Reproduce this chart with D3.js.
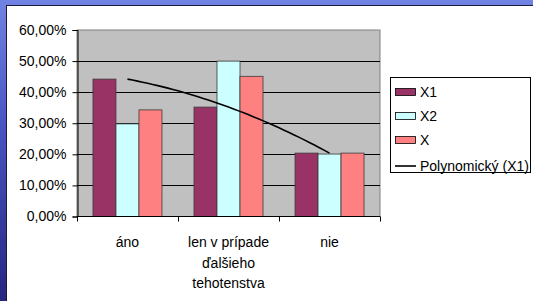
<!DOCTYPE html>
<html>
<head>
<meta charset="utf-8">
<script src="https://cdn.jsdelivr.net/npm/d3@7"></script>
<style>
  html, body { margin: 0; padding: 0; }
  body { width: 533px; height: 301px; overflow: hidden; }
  text { font-family: "Liberation Sans", Arial, sans-serif; fill: #000; }
</style>
</head>
<body>
<svg id="chart" width="533" height="301"></svg>
<script>
// ************************************************************************************************** //
// Data

var categories = [['áno'], ['len v prípade', 'ďalšieho', 'tehotenstva'], ['nie']];
var seriesNames = ['X1', 'X2', 'X'];
var x1Values = [0.442, 0.352, 0.204];
var x2Values = [0.298, 0.500, 0.201];
var xValues  = [0.343, 0.451, 0.204];
var yTicks = [0, 0.1, 0.2, 0.3, 0.4, 0.5, 0.6];
var trendName = 'Polynomický (X1)';

var colors = ['#993366', '#CCFFFF', '#FF8080'];

// ************************************************************************************************** //
// Setup

var width = 533, height = 301;
var plot = { left: 77, right: 380, top: 30, bottom: 216.5 };

var svg = d3.select('#chart');

// slide background (blue strips at top and left)
var defs = svg.append('defs');
var grad = defs.append('linearGradient').attr('id', 'bg').attr('x1', 0).attr('y1', 0).attr('x2', 0).attr('y2', 1);
grad.append('stop').attr('offset', '0%').attr('stop-color', '#7183e2');
grad.append('stop').attr('offset', '40%').attr('stop-color', '#4a56c4');
grad.append('stop').attr('offset', '100%').attr('stop-color', '#25267f');

svg.append('rect').attr('width', width).attr('height', height).attr('fill', 'url(#bg)');
svg.append('rect').attr('x', 6).attr('y', 5).attr('width', width - 6).attr('height', height - 5).attr('fill', '#1a1a3a');
svg.append('rect').attr('x', 7).attr('y', 6).attr('width', width - 7).attr('height', height - 6).attr('fill', '#fff');

// scales
var x = d3.scaleBand().domain(d3.range(categories.length)).range([plot.left, plot.right])
  .paddingInner(0.317).paddingOuter(0.158);
var xs = d3.scaleBand().domain(seriesNames).range([0, x.bandwidth()]);
var y = d3.scaleLinear().domain([0, 0.6]).range([plot.bottom, plot.top]);

// plot area
svg.append('rect')
  .attr('x', plot.left).attr('y', plot.top)
  .attr('width', plot.right - plot.left).attr('height', plot.bottom - plot.top)
  .attr('fill', '#C0C0C0').attr('stroke', '#808080').attr('stroke-width', 1);

// gridlines
svg.append('g').selectAll('line').data(yTicks.slice(1, -1)).enter().append('line')
  .attr('x1', plot.left).attr('x2', plot.right)
  .attr('y1', (d) => { return Math.round(y(d)) + 0.5 }).attr('y2', (d) => { return Math.round(y(d)) + 0.5 })
  .attr('stroke', '#000').attr('stroke-width', 1);

// bars
var series = [x1Values, x2Values, xValues];
series.forEach((vals, si) => {
  svg.append('g').selectAll('rect').data(vals).enter().append('rect')
    .attr('x', (d, i) => { return x(i) + xs(seriesNames[si]) })
    .attr('y', (d) => { return y(d) })
    .attr('width', xs.bandwidth())
    .attr('height', (d) => { return plot.bottom - y(d) })
    .attr('fill', colors[si]).attr('stroke', '#3a3a3a').attr('stroke-width', 0.8);
});

// polynomial trendline (order 2) on X1
var n = x1Values.length;
var idx = d3.range(1, n + 1);
function polyFit(xv, yv){
  // least squares for a + b x + c x^2
  var s = [0,0,0,0,0], t = [0,0,0];
  xv.forEach((xi, i) => {
    for (var k = 0; k < 5; k++) s[k] += Math.pow(xi, k);
    for (var k = 0; k < 3; k++) t[k] += yv[i]*Math.pow(xi, k);
  });
  var M = [[s[0],s[1],s[2],t[0]],[s[1],s[2],s[3],t[1]],[s[2],s[3],s[4],t[2]]];
  for (var c = 0; c < 3; c++){
    for (var r = c + 1; r < 3; r++){
      var f = M[r][c]/M[c][c];
      for (var k = c; k < 4; k++) M[r][k] -= f*M[c][k];
    }
  }
  var res = [0,0,0];
  for (var r = 2; r >= 0; r--){
    var v = M[r][3];
    for (var k = r + 1; k < 3; k++) v -= M[r][k]*res[k];
    res[r] = v/M[r][r];
  }
  return res;
}
var coef = polyFit(idx, x1Values);
var xt = d3.scaleLinear().domain([1, n]).range([x(0) + x.bandwidth()/2, x(n - 1) + x.bandwidth()/2]);
var trend = d3.range(1, n + 0.0001, 0.05).map((t) => { return { x: xt(t), y: y(coef[0] + coef[1]*t + coef[2]*t*t) } });
var line_gen = d3.line().x((d) => { return d.x }).y((d) => { return d.y });
svg.append('path').attr('d', line_gen(trend)).attr('fill', 'none').attr('stroke', '#000').attr('stroke-width', 1.6);

// y axis
var fmt = d3.format('.2%');
var yAxis = d3.axisLeft(y).tickValues(yTicks).tickSize(5).tickPadding(6)
  .tickFormat((d) => { return fmt(d).replace('.', ',') });
var gy = svg.append('g').attr('transform', 'translate(' + (plot.left + 0.5) + ',0)').call(yAxis);
gy.selectAll('text').style('font-size', '14px').style('font-family', '"Liberation Sans", Arial, sans-serif').attr('fill', '#000');
gy.selectAll('line,path').attr('stroke', '#000');

// x axis
svg.append('line').attr('x1', plot.left).attr('x2', plot.right).attr('y1', plot.bottom).attr('y2', plot.bottom).attr('stroke', '#000');
var tickPos = d3.range(categories.length + 1).map((i) => { return plot.left + i*x.step() });
svg.append('g').selectAll('line').data(tickPos).enter().append('line')
  .attr('x1', (d) => { return Math.round(d) + 0.5 }).attr('x2', (d) => { return Math.round(d) + 0.5 })
  .attr('y1', plot.bottom).attr('y2', plot.bottom + 5).attr('stroke', '#000');

var labels = svg.append('g').selectAll('text').data(categories).enter().append('text')
  .attr('x', (d, i) => { return x(i) + x.bandwidth()/2 })
  .attr('y', 247)
  .attr('text-anchor', 'middle').style('font-size', '14px');
labels.selectAll('tspan').data((d) => { return d }).enter().append('tspan')
  .attr('x', function(){ return d3.select(this.parentNode).attr('x') })
  .attr('dy', (d, i) => { return i === 0 ? 0 : 20.5 })
  .text((d) => { return d });

// legend
var legend = svg.append('g');
legend.append('rect').attr('x', 390.5).attr('y', 77.5).attr('width', 140).attr('height', 95)
  .attr('fill', '#fff').attr('stroke', '#000');
var legendItems = seriesNames.concat([trendName]);
var ly = [92, 116, 140, 166];
legendItems.forEach((name, i) => {
  if (i < 3){
    legend.append('rect').attr('x', 395.5).attr('y', ly[i] - 3.5).attr('width', 20).attr('height', 7)
      .attr('fill', colors[i]).attr('stroke', '#000').attr('stroke-width', 0.8);
  } else {
    legend.append('line').attr('x1', 395).attr('x2', 416).attr('y1', ly[i]).attr('y2', ly[i])
      .attr('stroke', '#000').attr('stroke-width', 1.6);
  }
  legend.append('text').attr('x', 420).attr('y', ly[i] + 5).style('font-size', '14px').text(name);
});
</script>
</body>
</html>
